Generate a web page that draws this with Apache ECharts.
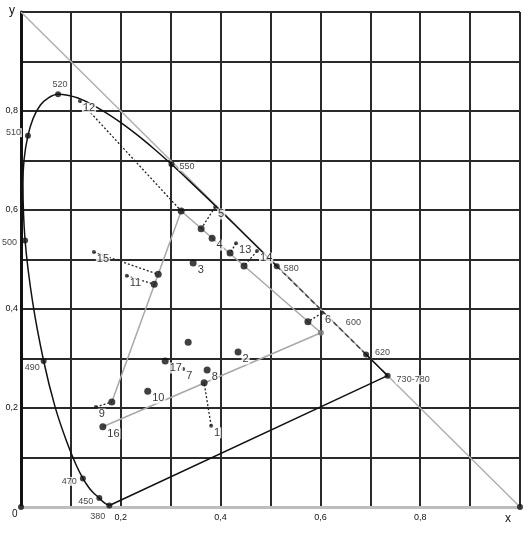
<!DOCTYPE html>
<html>
<head>
<meta charset="utf-8">
<style>
html,body{margin:0;padding:0;background:#fff;}
#chart{width:530px;height:534px;}
</style>
<script src="https://cdn.jsdelivr.net/npm/echarts@6/dist/echarts.min.js"></script>
</head>
<body>
<div id="chart"></div>
<script>
// ---- data ----
const axisTicks = [0.2, 0.4, 0.6, 0.8];
const axisTickLabels = ['0,2', '0,4', '0,6', '0,8'];

// spectral locus (nm, x, y)
const locusNm = [380,400,420,440,450,460,465,470,475,480,485,490,495,500,505,510,515,520,525,530,535,540,545,550,555,560,565,570,575,580,585,590,595,600,610,620,630,640,650,660,680,700];
const locusX  = [0.177,0.174,0.171,0.164,0.157,0.144,0.1355,0.124,0.1096,0.0913,0.0687,0.0454,0.0235,0.0082,0.0039,0.0139,0.0389,0.0743,0.1142,0.1547,0.1929,0.2296,0.2658,0.3016,0.3373,0.3731,0.4087,0.4441,0.4788,0.5125,0.5448,0.5752,0.6029,0.6270,0.6658,0.6915,0.7079,0.7190,0.7260,0.7300,0.7334,0.7347];
const locusY  = [0.003,0.005,0.006,0.011,0.018,0.0297,0.0399,0.0578,0.0868,0.1327,0.2007,0.2950,0.4127,0.5384,0.6548,0.7502,0.8120,0.8338,0.8262,0.8059,0.7816,0.7543,0.7243,0.6923,0.6589,0.6245,0.5896,0.5547,0.5202,0.4866,0.4544,0.4242,0.3965,0.3725,0.3340,0.3083,0.2920,0.2809,0.2740,0.2700,0.2666,0.2653];

// labelled wavelengths
const markedNm     = [380, 450, 470, 490, 500, 510, 520, 550, 580, 600, 620, 700];
const markedLabels = ['380','450','470','490','500','510','520','550','580','600','620','730-780'];
const markedDot    = [true,true,true,true,true,true,true,true,true,false,true,true];

// measured points (large dots)
const bigX     = [0.321,0.361,0.383,0.419,0.447,0.345,0.275,0.267,0.335,0.435,0.289,0.373,0.367,0.254,0.182,0.164,0.575];
const bigY     = [0.598,0.562,0.543,0.513,0.487,0.493,0.470,0.450,0.333,0.313,0.295,0.277,0.251,0.234,0.212,0.162,0.374];
const bigLabel = ['','','4','','','3','','','','2','17','8','','10','','16',''];

// small marker points
const smallX     = [0.381,0.389,0.603,0.325,0.150,0.212,0.118,0.431,0.473,0.146];
const smallY     = [0.164,0.606,0.392,0.279,0.202,0.467,0.820,0.533,0.517,0.515];
const smallLabel = ['1','5','6','7','9','11','12','13','14','15'];

// dotted links: [small index, big index]
const links = [[0,12],[1,1],[2,16],[4,14],[5,7],[6,0],[7,3],[8,4],[9,6]];

// grey polyline
const greyX = [0.182,0.321,0.601,0.164];
const greyY = [0.212,0.598,0.352,0.162];
const greyDot = [0.601, 0.352];

// diagonal x + y = 1
const diagX = [0, 1];
const diagY = [1, 0];

// ---- build ----
const FONT = "'Liberation Sans Narrow','Arial Narrow','Liberation Sans',Arial,sans-serif";
const pts = (xs, ys) => xs.map((x, i) => [x, ys[i]]);
const locus = pts(locusX, locusY);
const iSplitA = locusNm.indexOf(580);
const iSplitB = locusNm.indexOf(620);

const wlLabelStyle = {
  '380': {position:'left', distance:0, offset:[0,11]},
  '450': {position:'left', distance:2, offset:[0,3]},
  '470': {position:'left', distance:2, offset:[0,3]},
  '490': {position:'left', distance:0, offset:[0,7]},
  '500': {position:'left', distance:4, offset:[0,2]},
  '510': {position:'left', distance:3, offset:[0,-3]},
  '520': {position:'top', distance:2, offset:[2,0]},
  '550': {position:'right', distance:4, offset:[0,2]},
  '580': {position:'right', distance:3, offset:[0,2]},
  '600': {position:'right', distance:11, offset:[0,0]},
  '620': {position:'right', distance:5, offset:[0,-2]},
  '730-780': {position:'right', distance:5, offset:[0,4]}
};

const markedData = markedNm.map((nm, i) => {
  const k = locusNm.indexOf(nm);
  const st = wlLabelStyle[markedLabels[i]];
  return {
    value: [locusX[k], locusY[k]],
    symbolSize: markedDot[i] ? 6 : 0,
    label: Object.assign({show:true, formatter: markedLabels[i]}, st)
  };
});

const numLabel = (txt) => ({
  show: txt !== '', formatter: txt, position:'right', distance:0, offset:[0,7],
  fontSize:11, color:'#000', fontFamily:FONT,
  backgroundColor:'#fff', padding:[0,1]
});

const bigData = bigX.map((x, i) => ({value:[x, bigY[i]], label:numLabel(bigLabel[i])}));
const smallData = smallX.map((x, i) => ({value:[x, smallY[i]], label:numLabel(smallLabel[i])}));

const series = [];
// diagonal
series.push({type:'line', data: pts(diagX, diagY), showSymbol:false, silent:true, z:1,
  lineStyle:{color:'#b0b0b0', width:1.5}});
// grey polyline
series.push({type:'line', data: pts(greyX, greyY), showSymbol:false, silent:true, z:2,
  lineStyle:{color:'#a8a8a8', width:1.5}});
// locus parts
series.push({type:'line', data: locus.slice(0, iSplitA+1), showSymbol:false, smooth:0.3, silent:true, z:3,
  lineStyle:{color:'#111', width:1.5}});
series.push({type:'line', data: locus.slice(iSplitA, iSplitB+1), showSymbol:false, smooth:0.3, silent:true, z:3,
  lineStyle:{color:'#444', width:1.5, type:[5,3]}});
series.push({type:'line', data: locus.slice(iSplitB), showSymbol:false, smooth:0.3, silent:true, z:3,
  lineStyle:{color:'#111', width:1.5}});
// purple line
series.push({type:'line', data:[locus[0], locus[locus.length-1]], showSymbol:false, silent:true, z:3,
  lineStyle:{color:'#111', width:1.5}});
// dotted links
links.forEach(([s, b]) => {
  series.push({type:'line', data:[[smallX[s], smallY[s]], [bigX[b], bigY[b]]], showSymbol:false, silent:true, z:3,
    lineStyle:{color:'#222', width:1.3, type:[2,2]}});
});
// wavelength markers
series.push({type:'scatter', data: markedData, symbolSize:6, z:6, silent:true,
  itemStyle:{color:'#111'},
  label:{fontSize:9, color:'#111', fontFamily:FONT, backgroundColor:'#fff', padding:[0,1]}});
// big dots
series.push({type:'scatter', data: bigData, symbolSize:7, z:6, silent:true, itemStyle:{color:'#111'}});
// grey dot
series.push({type:'scatter', data:[greyDot], symbolSize:6, z:6, silent:true, itemStyle:{color:'#777'}});
// small dots
series.push({type:'scatter', data: smallData, symbolSize:4, z:6, silent:true, itemStyle:{color:'#222'}});
// corner dots
series.push({type:'scatter', data:[[0,0],[1,0]], symbolSize:6, z:6, silent:true, itemStyle:{color:'#111'}});

const tickFmt = (v) => {
  const k = axisTicks.findIndex(t => Math.abs(t - v) < 1e-6);
  return k >= 0 ? axisTickLabels[k] : '';
};

const chart = echarts.init(document.getElementById('chart'), null, {renderer:'canvas'});
chart.setOption({
  animation:false,
  backgroundColor:'#fff',
  grid:{left:21, top:12, width:499, height:495, containLabel:false},
  xAxis:{type:'value', min:0, max:1, interval:0.1,
    axisLine:{show:true, onZero:false, lineStyle:{color:'#bdbdbd', width:3}},
    axisTick:{show:false},
    splitLine:{show:true, lineStyle:{color:'#2a2a2a', width:2}},
    axisLabel:{formatter:tickFmt, margin:6, fontSize:9, color:'#111', fontFamily:FONT, showMinLabel:true, showMaxLabel:true}},
  yAxis:{type:'value', min:0, max:1, interval:0.1,
    axisLine:{show:true, onZero:false, lineStyle:{color:'#111', width:3}},
    axisTick:{show:false},
    splitLine:{show:true, lineStyle:{color:'#2a2a2a', width:2}},
    axisLabel:{formatter:tickFmt, margin:3, fontSize:9, color:'#111', fontFamily:FONT}},
  graphic:[
    {type:'text', left:9, top:5, style:{text:'y', fontSize:12, fill:'#111', fontFamily:FONT}, z:10},
    {type:'text', left:505, top:513, style:{text:'x', fontSize:12, fill:'#111', fontFamily:FONT}, z:10},
    {type:'text', left:12, top:509, style:{text:'0', fontSize:10, fill:'#111', fontFamily:FONT}, z:10}
  ],
  series: series
});
</script>
</body>
</html>
